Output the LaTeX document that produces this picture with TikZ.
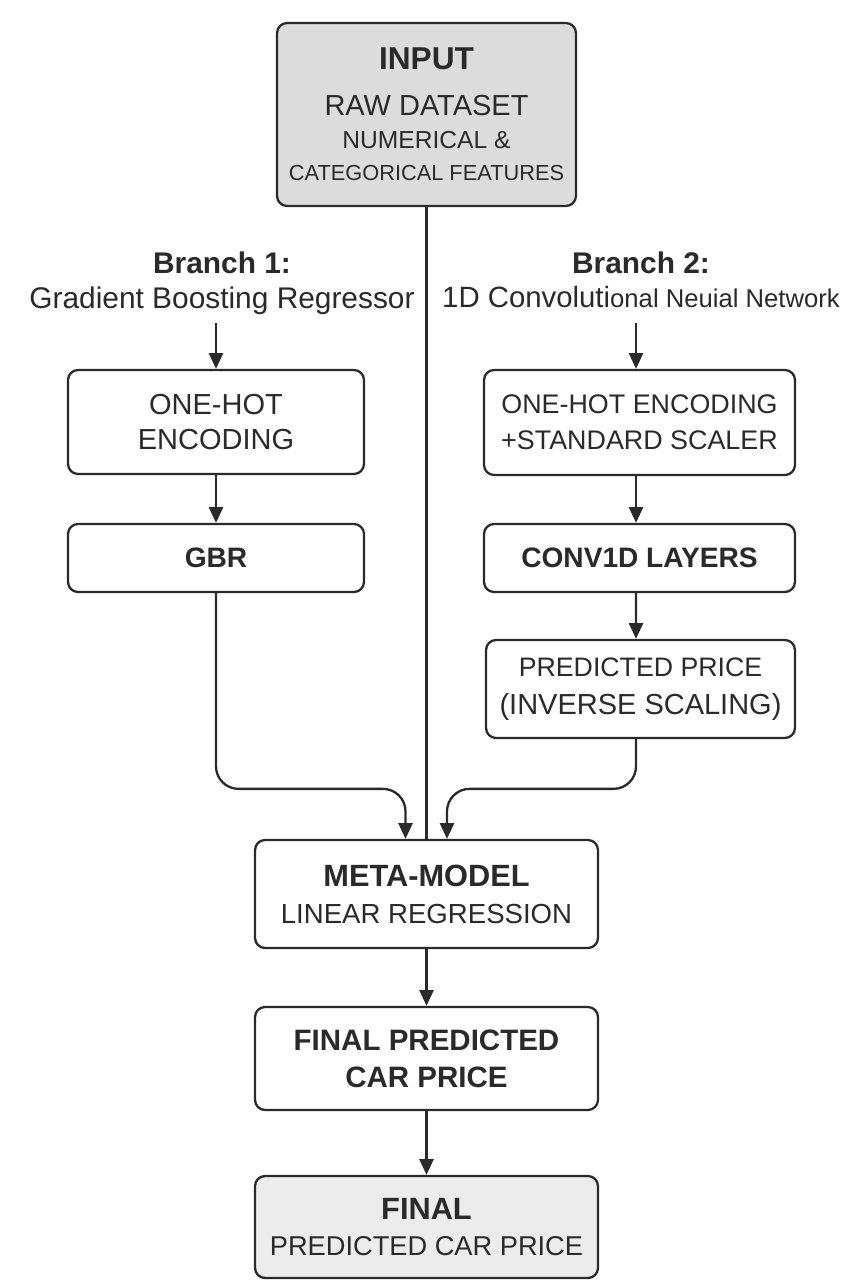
\documentclass[tikz,border=0pt]{standalone}
\usepackage{fontspec}
\setmainfont{Liberation Sans}
\usetikzlibrary{arrows.meta,calc}
\definecolor{ink}{HTML}{2A2A2A}
\definecolor{inputfill}{HTML}{DCDCDC}
\definecolor{finalfill}{HTML}{ECECEC}
\newcommand{\fs}[1]{\fontsize{#1}{#1}\selectfont}
\tikzset{
  box/.style={draw=ink, line width=1.3pt, rounded corners=0.2cm, fill=white, align=center, inner sep=0pt, text=ink},
  arr/.style={draw=ink, line width=1.3pt, -{Triangle[width=8pt,length=9pt]}},
  ln/.style={draw=ink, line width=1.3pt},
  lab/.style={align=center, text=ink, inner sep=0pt, anchor=north}
}
\begin{document}
\begin{tikzpicture}[x=0.02cm,y=-0.02cm]
\useasboundingbox[fill=white] (0,0) rectangle (853,1280);
% nodes
\node[box, fill=inputfill, minimum width=5.98cm, minimum height=3.66cm] (input) at (426.5,114.5)
  {{\fs{18}\bfseries INPUT}\\[14pt]{\fs{16.5}RAW DATASET}\\[7pt]{\fs{14}NUMERICAL \&}\\[6pt]{\fs{12.4}CATEGORICAL FEATURES}};
\node[lab] (b1) at (222,252) {{\fs{17}\bfseries Branch 1:}\\[6pt]{\fs{17}Gradient Boosting Regressor}};
\node[lab] (b2) at (641,252) {{\fs{17}\bfseries Branch 2:}\\[6pt]{\fs{16.7}1D Convoluti}{\fs{14.6}onal Neuial Network}};
\node[box, minimum width=5.92cm, minimum height=2.08cm] (oh) at (216,422)
  {\fs{16.5}ONE-HOT\\[8pt]\fs{16.5}ENCODING};
\node[box, minimum width=5.92cm, minimum height=1.36cm] (gbr) at (216,558)
  {\fs{16}\bfseries GBR};
\node[box, minimum width=6.22cm, minimum height=2.1cm] (ohs) at (639.5,422.5)
  {\fs{15.3}ONE-HOT ENCODING\\[8.5pt]\fs{15.3}+STANDARD SCALER};
\node[box, minimum width=6.22cm, minimum height=1.36cm] (conv) at (639.5,558)
  {\fs{16}\bfseries CONV1D LAYERS};
\node[box, minimum width=6.18cm, minimum height=1.96cm] (pred) at (640.5,689)
  {\fs{15.2}PREDICTED PRICE\\[8.5pt]\fs{16.5}(INVERSE SCALING)};
\node[box, minimum width=6.86cm, minimum height=2.16cm] (meta) at (426.5,894)
  {{\fs{17.5}\bfseries META-MODEL}\\[9pt]{\fs{15.7}LINEAR REGRESSION}};
\node[box, minimum width=6.86cm, minimum height=2.06cm] (fpc) at (426.5,1058.5)
  {\fs{16.8}\bfseries FINAL PREDICTED\\[9pt]\fs{16.8}\bfseries CAR PRICE};
\node[box, fill=finalfill, minimum width=6.86cm, minimum height=2.04cm] (final) at (426.5,1227)
  {{\fs{17.5}\bfseries FINAL}\\[9pt]{\fs{15.5}PREDICTED CAR PRICE}};
% connectors
\coordinate (mL) at ($(meta.north)+(-0.42cm,0)$);
\coordinate (mR) at ($(meta.north)+(0.41cm,0)$);
\draw[ln] (input.south) -- (input.south |- meta.north);
\draw[arr] ($(oh.north)+(0,0.92cm)$) -- (oh.north);
\draw[arr] ($(ohs.north)+(-0.07cm,0.92cm)$) -- ($(ohs.north)+(-0.07cm,0)$);
\draw[arr] (oh.south) -- (gbr.north);
\draw[arr] ($(ohs.south)+(-0.07cm,0)$) -- ($(conv.north)+(-0.07cm,0)$);
\draw[arr] ($(conv.south)+(-0.07cm,0)$) -- ($(pred.north)+(-0.09cm,0)$);
\draw[arr, rounded corners=0.45cm] (gbr.south) |- ($(mL)+(0,1cm)$) -- (mL);
\draw[arr, rounded corners=0.45cm] ($(pred.south)+(-0.09cm,0)$) |- ($(mR)+(0,1cm)$) -- (mR);
\draw[arr] (meta.south) -- (fpc.north);
\draw[arr] (fpc.south) -- (final.north);
\end{tikzpicture}
\end{document}
